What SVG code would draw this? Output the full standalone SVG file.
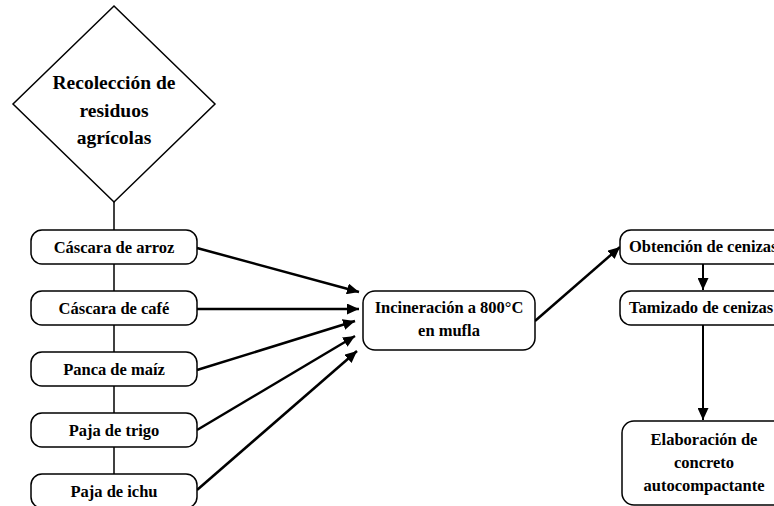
<svg xmlns="http://www.w3.org/2000/svg" width="774" height="506" viewBox="0 0 774 506">
<style>
.box{fill:#fff;stroke:#000;stroke-width:1.5}
.t{font-family:"Liberation Serif","Times New Roman",serif;font-weight:bold;font-size:16.5px;fill:#000}
.tc{text-anchor:middle}
.big{font-size:19.5px}
.line{stroke:#000;stroke-width:1.5;fill:none}
.arr{stroke:#000;stroke-width:2.5;fill:none;marker-end:url(#ah)}
.varr{stroke:#000;stroke-width:2;fill:none;marker-end:url(#ah)}
</style>
<defs>
<marker id="ah" markerUnits="userSpaceOnUse" markerWidth="13" markerHeight="11" refX="12" refY="5.5" orient="auto">
<path d="M0,0 L12,5.5 L0,11 Z" fill="#000"/>
</marker>
</defs>
<rect width="774" height="506" fill="#fff"/>
<g id="connectors">
<line class="line" x1="114" y1="202" x2="114" y2="480"/>
<line class="arr" x1="197" y1="248" x2="359" y2="292"/>
<line class="arr" x1="197" y1="309" x2="359" y2="309"/>
<line class="arr" x1="197" y1="370" x2="355" y2="321"/>
<line class="arr" x1="197" y1="430" x2="355" y2="336"/>
<line class="arr" x1="197" y1="490" x2="357" y2="351"/>
<line class="arr" x1="535" y1="321" x2="620" y2="247"/>
<line class="varr" x1="703" y1="264" x2="703" y2="290"/>
<line class="varr" x1="703" y1="325" x2="703" y2="420"/>
</g>
<g id="recoleccion">
<polygon class="box" points="114,6 215,104 114,202 13,104"/>
<text class="t big tc" x="114" y="89">Recolección de</text>
<text class="t big tc" x="114" y="117">residuos</text>
<text class="t big tc" x="114" y="144">agrícolas</text>
</g>
<g id="arroz">
<rect class="box" x="31" y="230" width="166" height="34" rx="11"/>
<text class="t tc" x="114" y="253">Cáscara de arroz</text>
</g>
<g id="cafe">
<rect class="box" x="31" y="291" width="166" height="34" rx="11"/>
<text class="t tc" x="114" y="314">Cáscara de café</text>
</g>
<g id="maiz">
<rect class="box" x="31" y="352" width="166" height="34" rx="11"/>
<text class="t tc" x="114" y="375">Panca de maíz</text>
</g>
<g id="trigo">
<rect class="box" x="31" y="413" width="166" height="34" rx="11"/>
<text class="t tc" x="114" y="436">Paja de trigo</text>
</g>
<g id="ichu">
<rect class="box" x="31" y="474" width="166" height="34" rx="11"/>
<text class="t tc" x="114" y="497">Paja de ichu</text>
</g>
<g id="incineracion">
<rect class="box" x="363" y="291" width="172" height="59" rx="12"/>
<text class="t tc" x="449" y="313">Incineración a 800°C</text>
<text class="t tc" x="449" y="336">en mufla</text>
</g>
<g id="obtencion">
<rect class="box" x="620" y="230" width="170" height="34" rx="11"/>
<text class="t" x="629" y="252">Obtención de cenizas</text>
</g>
<g id="tamizado">
<rect class="box" x="620" y="291" width="170" height="34" rx="11"/>
<text class="t" x="629" y="313">Tamizado de cenizas</text>
</g>
<g id="elaboracion">
<rect class="box" x="622" y="421" width="170" height="84" rx="12"/>
<text class="t tc" x="704" y="445">Elaboración de</text>
<text class="t tc" x="704" y="468">concreto</text>
<text class="t tc" x="704" y="491">autocompactante</text>
</g>
</svg>
